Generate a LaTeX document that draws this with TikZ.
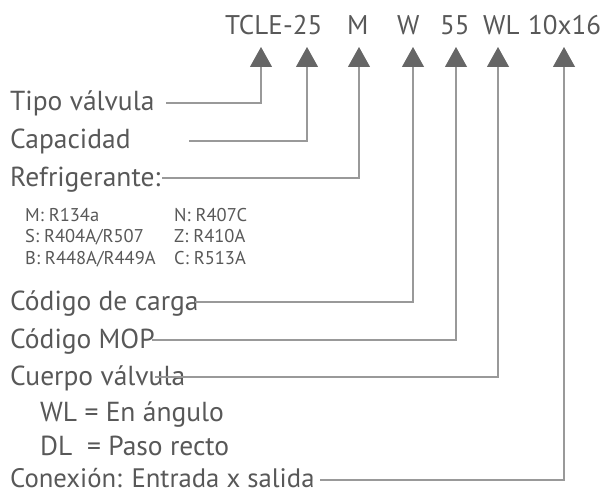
\documentclass[tikz,border=0pt]{standalone}
\usepackage{fontspec}
\setmainfont{PT Sans}
\usetikzlibrary{arrows.meta}
\definecolor{txt}{HTML}{585858}
\definecolor{tri}{HTML}{666666}
\definecolor{ln}{HTML}{999999}
\begin{document}
\begin{tikzpicture}[x=1pt,y=-1pt,
  big/.style={font=\fontsize{27.5}{30}\selectfont, text=txt, inner sep=0pt, anchor=base west},
  small/.style={font=\fontsize{18.5}{20}\selectfont, text=txt, inner sep=0pt, anchor=base west},
  code/.style={font=\fontsize{27}{30}\selectfont, text=txt, inner sep=0pt, anchor=base west},
  conn/.style={draw=ln, line width=1.1pt, -{Triangle[width=22pt,length=20pt,color=tri,fill=tri]}}]
\useasboundingbox (0,0) rectangle (603,492);
% code line
\node[code] (c1) at (225,35) {TCLE};
\node[code] (c2) at (283,35) {-25};
\node[code] (c3) at (347,35) {M};
\node[code] (c4) at (397,35) {W};
\node[code] (c5) at (440,35) {55};
\node[code] (c6) at (483,35) {WL};
\node[code] (c7) at (528,35) {10x16};
% arrow tips
\coordinate (t1) at (261,47);
\coordinate (t2) at (307,47);
\coordinate (t3) at (359,47);
\coordinate (t4) at (413,47);
\coordinate (t5) at (456,47);
\coordinate (t6) at (498,47);
\coordinate (t7) at (564,47);
% labels
\node[big] (l1) at (10,111) {Tipo válvula};
\node[big] (l2) at (10,149) {Capacidad};
\node[big] (l3) at (10,186) {Refrigerante:};
\node[small] (r1) at (25,222) {M: R134a};
\node[small] (r2) at (174,222) {N: R407C};
\node[small] (r3) at (25,243) {S: R404A/R507};
\node[small] (r4) at (174,243) {Z: R410A};
\node[small] (r5) at (25,264) {B: R448A/R449A};
\node[small] (r6) at (174,264) {C: R513A};
\node[big] (l4) at (10,310) {Código de carga};
\node[big] (l5) at (10,348) {Código MOP};
\node[big] (l6) at (10,385) {Cuerpo válvula};
\node[big] (w1) at (40,421) {WL = En ángulo};
\node[big] (w2) at (40,455) {DL\ \ = Paso recto};
\node[big, font=\fontsize{26.7}{30}\selectfont] (l7) at (10,487) {Conexión: Entrada x salida};
% line starts
\coordinate (s1) at (166,103);
\coordinate (s2) at (189,141);
\coordinate (s3) at (162,178);
\coordinate (s4) at (195,302);
\coordinate (s5) at (152,340);
\coordinate (s6) at (155,377);
\coordinate (s7) at (320,480);
\draw[conn] (s1) -| (t1);
\draw[conn] (s2) -| (t2);
\draw[conn] (s3) -| (t3);
\draw[conn] (s4) -| (t4);
\draw[conn] (s5) -| (t5);
\draw[conn] (s6) -| (t6);
\draw[conn] (s7) -| (t7);
\end{tikzpicture}
\end{document}
